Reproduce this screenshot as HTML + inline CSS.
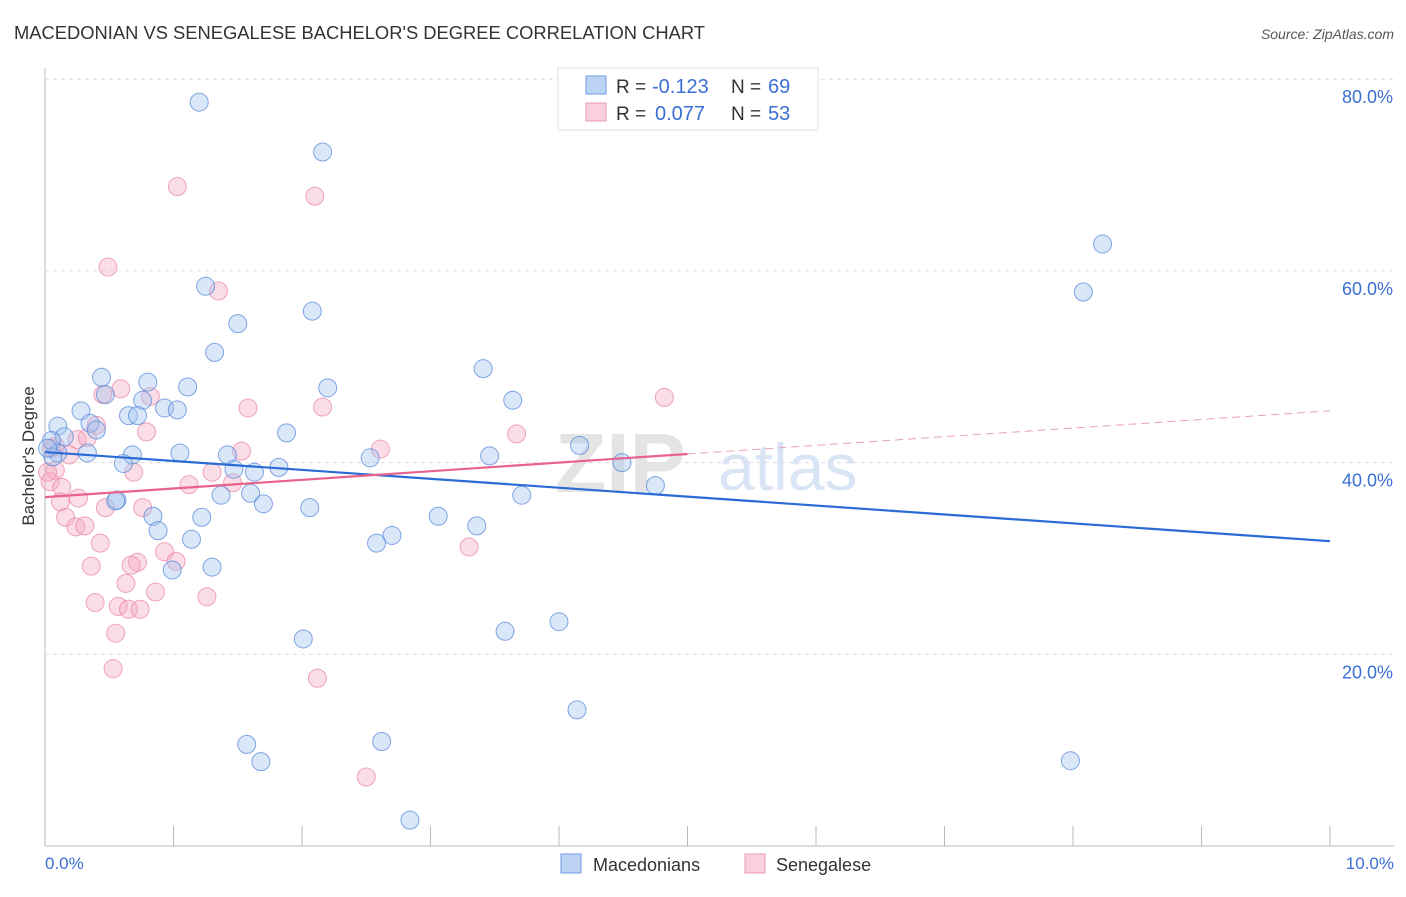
<!DOCTYPE html>
<html><head><meta charset="utf-8"><style>
body{margin:0;background:#fff;font-family:"Liberation Sans",sans-serif;}
svg text{font-family:"Liberation Sans",sans-serif;}
</style></head><body>
<svg id="chart" width="1406" height="892" xmlns="http://www.w3.org/2000/svg">
<text x="14" y="39" font-size="18" fill="#333" textLength="691" lengthAdjust="spacingAndGlyphs">MACEDONIAN VS SENEGALESE BACHELOR'S DEGREE CORRELATION CHART</text>
<text x="1394" y="39" font-size="14" fill="#555" font-style="italic" text-anchor="end">Source: ZipAtlas.com</text>
<g id="grid"></g>
<g><text x="555" y="492" font-size="84" fill="#e4e4e4" font-family="Liberation Serif" font-weight="bold">ZIP</text><text x="718" y="490" font-size="66" fill="#d9e5f5">atlas</text></g>
<g id="pts"></g>
<g id="trends"></g>
<text transform="translate(34,456) rotate(-90)" font-size="17" fill="#333" text-anchor="middle">Bachelor's Degree</text>
<text x="45" y="869" font-size="17" fill="#3b6fd4">0.0%</text>
<text x="1394" y="869" font-size="17" fill="#3b6fd4" text-anchor="end">10.0%</text>
<g>
<rect x="558" y="68" width="260" height="62" fill="#fff" stroke="#ddd"/>
<rect x="586" y="76" width="20" height="18" fill="#bcd3f3" stroke="#6f9de6"/>
<rect x="586" y="103" width="20" height="18" fill="#fbd0dc" stroke="#ef9ab3"/>
<text x="616" y="93" font-size="19" fill="#333">R =</text>
<text x="652" y="93" font-size="20" fill="#3b6fd4">-0.123</text>
<text x="731" y="93" font-size="19" fill="#333">N =</text>
<text x="768" y="93" font-size="20" fill="#3b6fd4">69</text>
<text x="616" y="120" font-size="19" fill="#333">R =</text>
<text x="655" y="120" font-size="20" fill="#3b6fd4">0.077</text>
<text x="731" y="120" font-size="19" fill="#333">N =</text>
<text x="768" y="120" font-size="20" fill="#3b6fd4">53</text>
</g>
<g>
<rect x="561" y="854" width="20" height="19" fill="#bcd3f3" stroke="#6f9de6"/>
<text x="593" y="871" font-size="18" fill="#333">Macedonians</text>
<rect x="745" y="854" width="20" height="19" fill="#fbd0dc" stroke="#ef9ab3"/>
<text x="776" y="871" font-size="18" fill="#333">Senegalese</text>
</g>
</svg>
<script>
const yTicks=[20,40,60,80];
const xTicks=[0,1,2,3,4,5,6,7,8,9,10];
const blueX=[1.20,2.16,8.23,8.08,1.25,2.08,1.50,1.32,3.41,0.44,0.80,1.11,2.20,0.47,0.76,3.64,0.93,1.03,0.28,0.65,0.72,0.10,0.35,0.40,1.88,4.16,0.15,0.05,0.10,0.33,0.68,1.05,1.42,3.46,2.53,0.61,4.49,1.47,1.63,1.82,4.75,3.71,1.37,1.60,0.56,1.70,2.06,0.84,3.06,1.22,3.36,0.88,1.14,2.70,2.58,0.99,1.30,4.00,3.58,2.01,4.14,1.57,2.62,1.68,7.98,2.84,0.06,0.02,0.55];
const blueY=[77.6,72.4,62.8,57.8,58.4,55.8,54.5,51.5,49.8,48.9,48.4,47.9,47.8,47.1,46.5,46.5,45.7,45.5,45.4,44.9,44.9,43.8,44.1,43.4,43.1,41.8,42.7,42.3,41.0,41.0,40.8,41.0,40.8,40.7,40.5,39.9,40.0,39.3,39.0,39.5,37.6,36.6,36.6,36.8,36.1,35.7,35.3,34.4,34.4,34.3,33.4,32.9,32.0,32.4,31.6,28.8,29.1,23.4,22.4,21.6,14.2,10.6,10.9,8.8,8.9,2.7,40.6,41.5,36.0];
const pinkX=[1.03,2.10,0.49,1.35,4.82,0.59,0.82,0.45,1.58,2.16,0.79,0.40,3.67,2.61,1.53,0.25,0.33,0.08,0.19,0.08,0.69,1.30,1.46,1.12,0.04,0.13,0.26,0.12,0.76,0.47,0.16,0.24,0.31,0.43,0.93,3.30,0.72,0.67,0.36,1.02,0.63,0.86,1.26,0.39,0.57,0.65,0.74,0.55,0.53,2.12,2.50,0.05,0.02];
const pinkY=[68.8,67.8,60.4,57.9,46.8,47.7,46.9,47.1,45.7,45.8,43.2,43.9,43.0,41.4,41.2,42.4,42.6,41.7,40.8,39.2,39.0,39.0,37.9,37.7,38.0,37.4,36.3,35.9,35.3,35.3,34.3,33.3,33.4,31.6,30.7,31.2,29.6,29.3,29.2,29.7,27.4,26.5,26.0,25.4,25.0,24.7,24.7,22.2,18.5,17.5,7.2,41.5,39.0];
const blueTrend=[41.1,31.8];
const pinkTrend=[36.4,45.4];
const pinkSolidEnd=5.0;
const X=v=>45+v*128.5, Y=v=>846-v*9.585;
const NS="http://www.w3.org/2000/svg";
function mk(t,a,p){const e=document.createElementNS(NS,t);for(const k in a)e.setAttribute(k,a[k]);p.appendChild(e);return e;}
const grid=document.getElementById('grid');
mk('line',{x1:45,y1:68,x2:45,y2:846,stroke:'#bbb'},grid);
mk('line',{x1:45,y1:846,x2:1394,y2:846,stroke:'#bbb'},grid);
yTicks.forEach(t=>{
const l=mk('line',{x1:45,x2:1394,y1:Y(t),y2:Y(t),stroke:'#ddd','stroke-dasharray':'4,4'},grid);


const tx=mk('text',{x:1393,y:Y(t)+24,'font-size':18,fill:'#3b6fd4','text-anchor':'end'},grid);
tx.textContent=t.toFixed(1)+'%';


});
xTicks.forEach(t=>{
const l=mk('line',{x1:X(t),x2:X(t),y1:826,y2:846,stroke:'#bbb'},grid);


});
const pts=document.getElementById('pts');
pinkX.forEach((x,i)=>{
const c=mk('circle',{cx:X(x),cy:Y(pinkY[i]),r:9,fill:'rgba(246,170,195,0.4)',stroke:'rgba(232,130,160,0.7)','stroke-width':1},pts);


});
blueX.forEach((x,i)=>{
const c=mk('circle',{cx:X(x),cy:Y(blueY[i]),r:9,fill:'rgba(160,195,240,0.4)',stroke:'rgba(80,130,215,0.7)','stroke-width':1},pts);


});
const tr=document.getElementById('trends');
const b=mk('line',{x1:X(0),y1:Y(blueTrend[0]),x2:X(10),y2:Y(blueTrend[1]),stroke:'#2a6bd6','stroke-width':2.2},tr);


const pm=pinkTrend[0]+(pinkTrend[1]-pinkTrend[0])*pinkSolidEnd/10;
const p1=mk('line',{x1:X(0),y1:Y(pinkTrend[0]),x2:X(pinkSolidEnd),y2:Y(pm),stroke:'#e8628c','stroke-width':2.2},tr);


const p2=mk('line',{x1:X(pinkSolidEnd),y1:Y(pm),x2:X(10),y2:Y(pinkTrend[1]),stroke:'#e8a0b8','stroke-width':1,'stroke-dasharray':'8,5'},tr);


</script>
</body></html>
